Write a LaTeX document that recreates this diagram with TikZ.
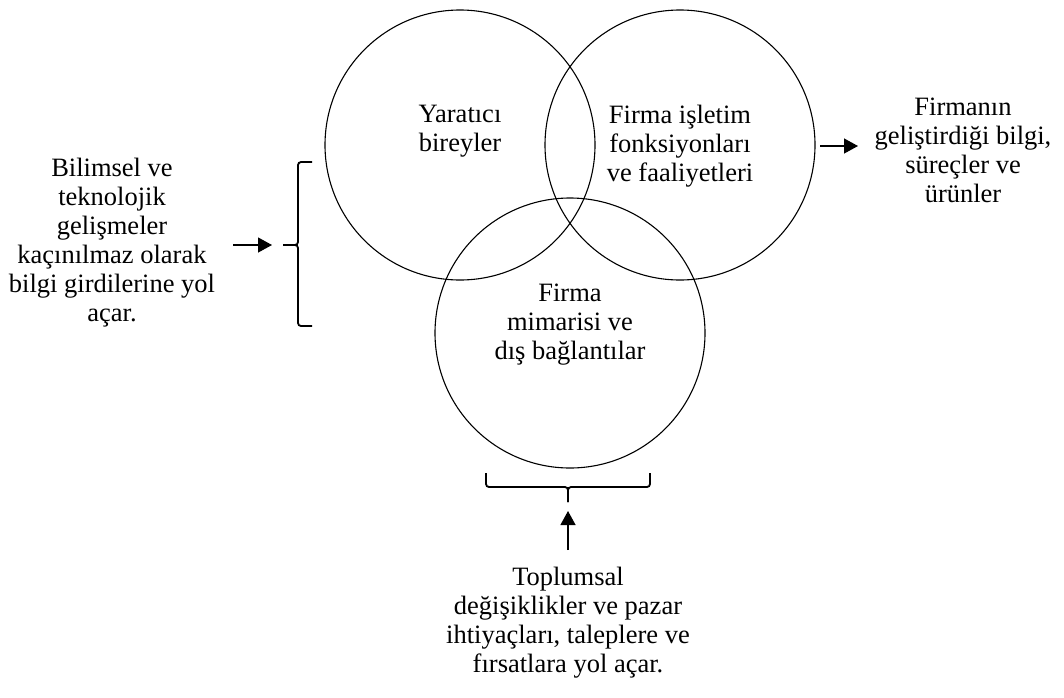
\documentclass[tikz,border=0pt]{standalone}
\usepackage{fontspec}
\setmainfont{Liberation Serif}
\usetikzlibrary{arrows.meta}
\begin{document}
\begin{tikzpicture}[x=1pt,y=-1pt,
  ring/.style={circle,draw,line width=1.1pt,minimum size=270pt,inner sep=0pt},
  txt/.style={align=center,inner sep=0pt,font=\fontsize{26.5}{29}\selectfont,
    execute at begin node=\strut,execute at end node=\strut},
  bracket/.style={line width=1.8pt,rounded corners=3pt},
  feed/.style={line width=1.3pt,-{Triangle[length=14pt,width=15pt]}}]

% page
\fill[white] (0,0) rectangle (1064,697);
\useasboundingbox (0,0) rectangle (1064,697);

% the three overlapping circles
\node[ring] (c1) at (460,145) {};
\node[ring] (c2) at (680,145) {};
\node[ring] (c3) at (570,333) {};

% texts inside the circles
\node[txt] (t1) at (460,133) {Yaratıcı\\bireyler};
\node[txt] (t2) at (680,148) {Firma işletim\\fonksiyonları\\ve faaliyetleri};
\node[txt] (t3) at (570,326) {Firma\\mimarisi ve\\dış bağlantılar};

% outside texts
\node[txt] (tl) at (112,244) {Bilimsel ve\\teknolojik\\gelişmeler\\kaçınılmaz olarak\\bilgi girdilerine yol\\açar.};
\node[txt] (tr) at (963,155) {Firmanın\\geliştirdiği bilgi,\\süreçler ve\\ürünler};
\node[txt] (tb) at (568,624) {Toplumsal\\değişiklikler ve pazar\\ihtiyaçları, taleplere ve\\fırsatlara yol açar.};

% left brace
\coordinate (lbTop) at (312,162);
\coordinate (lbTip) at (283,245);
\coordinate (lbBot) at (312,326);
\draw[bracket] (lbTop) -- (298,162) -- (298,245) -- (lbTip);
\draw[bracket] (lbTip) -- (298,245) -- (298,326) -- (lbBot);

% bottom brace
\coordinate (bbL) at (486,473);
\coordinate (bbTip) at (568,502);
\coordinate (bbR) at (650,473);
\draw[bracket] (bbL) -- (486,487) -- (568,487) -- (bbTip);
\draw[bracket] (bbTip) -- (568,487) -- (650,487) -- (bbR);

% arrows
\coordinate (laS) at (233,245);
\coordinate (laE) at (272,245);
\draw[feed] (laS) -- (laE);

\coordinate (raS) at (820,146);
\coordinate (raE) at (858,146);
\draw[feed] (raS) -- (raE);

\coordinate (baS) at (568,550);
\coordinate (baE) at (568,511);
\draw[feed] (baS) -- (baE);
\end{tikzpicture}
\end{document}
